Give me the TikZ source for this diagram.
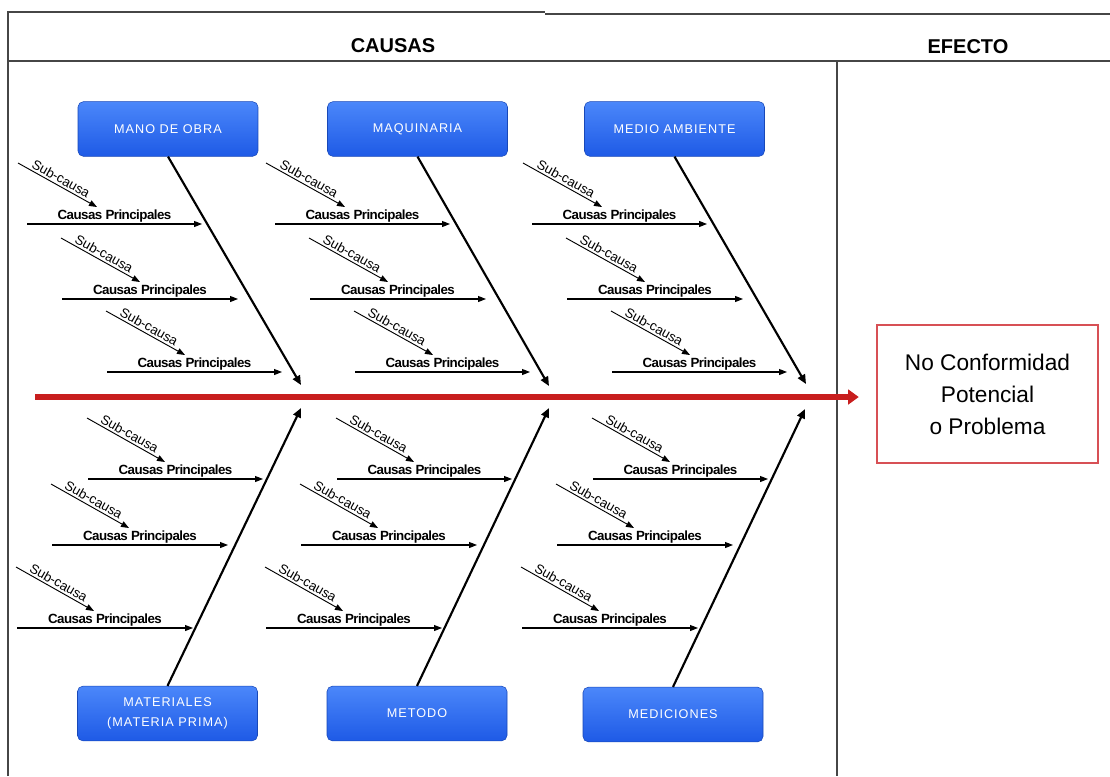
\documentclass[tikz,border=0pt]{standalone}
\usepackage{fontspec}
\setmainfont{Liberation Sans}
\usetikzlibrary{arrows.meta, positioning}
\definecolor{FrameGray}{RGB}{70,70,70}
\definecolor{BoxBlue}{RGB}{30,90,230}
\definecolor{BoxBlueTop}{RGB}{75,135,250}
\definecolor{SpineRed}{RGB}{200,30,30}
\definecolor{EffRed}{RGB}{215,80,85}

\begin{document}
\begin{tikzpicture}[x=0.75pt, y=-0.75pt,
    cat/.style={rectangle, rounded corners=4pt, minimum width=135pt,
                minimum height=41pt, top color=BoxBlueTop, bottom color=BoxBlue,
                draw=BoxBlue!80!black, line width=0.4pt, text=white, align=center,
                font=\fontsize{9.5}{15}\selectfont\addfontfeature{LetterSpace=8}},
    hdr/.style={font=\fontsize{15}{18}\selectfont\bfseries},
    frame/.style={draw=FrameGray, line width=0.9pt},
    spine/.style={-{Triangle[length=8pt, width=11pt]}, line width=4.5pt, draw=SpineRed},
    bone/.style={-{Triangle[length=7pt, width=6pt]}, line width=1.6pt, black},
    causa/.style={-{Triangle[length=6pt, width=4.5pt]}, line width=0.8pt, black},
    princ/.style={font=\fontsize{10}{12}\selectfont\bfseries\addfontfeature{LetterSpace=-4},
                  inner sep=1pt},
    subtxt/.style={font=\fontsize{10}{12}\selectfont, inner sep=1.5pt}
  ]
  \useasboundingbox (0,0) rectangle (1110,776);

  % frame and headers
  \draw[frame] (8,776) -- (8,12) -- (545,12);
  \draw[frame] (545,14) -- (1110,14);
  \draw[frame] (8,61) -- (1110,61);
  \draw[frame] (837,61) -- (837,776);
  \node[hdr] (causas) at (393,46) {CAUSAS};
  \node[hdr] (efecto) at (968,47) {EFECTO};

  % categories
  \node[cat] (mano)   at (168,129)     {MANO DE OBRA};
  \node[cat] (maqui)  at (417.5,129)   {MAQUINARIA};
  \node[cat] (medio)  at (674.5,129)   {MEDIO AMBIENTE};
  \node[cat] (mater)  at (167.5,713.5) {MATERIALES\\(MATERIA PRIMA)};
  \node[cat] (metodo) at (417,713.5)   {METODO};
  \node[cat] (medic)  at (673,714.5)   {MEDICIONES};

  % effect
  \node[draw=EffRed, line width=1.6pt, minimum width=166pt, minimum height=103.5pt,
        align=center, font=\fontsize{17}{24}\selectfont]
        (effect) at (987.5,394) {No Conformidad\\Potencial\\o Problema};

  % spine
  \coordinate (spS) at (35,397);
  \draw[spine, shorten >=12.75pt] (spS) -- (spS -| effect.west);

  % main bones
  \coordinate (tb1) at (301,385);
  \coordinate (tb2) at (549,386);
  \coordinate (tb3) at (806,384);
  \coordinate (bb1) at (301,408);
  \coordinate (bb2) at (549,408);
  \coordinate (bb3) at (805,409);
  \draw[bone] (mano.south)   -- (tb1);
  \draw[bone] (maqui.south)  -- (tb2);
  \draw[bone] (medio.south)  -- (tb3);
  \draw[bone] (mater.north)  -- (bb1);
  \draw[bone] (metodo.north) -- (bb2);
  \draw[bone] (medic.north)  -- (bb3);

  % causes, top half
  \foreach \g/\dx in {1/0, 2/248, 3/505} {
    \foreach \r/\xa/\xb/\yy/\sa/\sb in {1/27/202/224/18/97,
                                        2/62/238/299/61/140,
                                        3/107/282/372/106/185} {
      \coordinate (ts\g\r) at (\xa+\dx,\yy);
      \coordinate (te\g\r) at (\xb+\dx,\yy);
      \draw[causa] (ts\g\r) -- node[midway, above, princ] {Causas Principales} (te\g\r);
      \coordinate (ss\g\r) at (\sa+\dx,\yy-61);
      \coordinate (se\g\r) at (\sb+\dx,\yy-17);
      \draw[causa, line width=0.7pt] (ss\g\r) -- node[midway, above, sloped, subtxt] {Sub-causa} (se\g\r);
    }
  }

  % causes, bottom half
  \foreach \g/\dx in {1/0, 2/249, 3/505} {
    \foreach \r/\xa/\xb/\yy in {1/88/263/479, 2/52/228/545, 3/17/193/628} {
      \coordinate (us\g\r) at (\xa+\dx,\yy);
      \coordinate (ue\g\r) at (\xb+\dx,\yy);
      \draw[causa] (us\g\r) -- node[midway, above, princ] {Causas Principales} (ue\g\r);
      \coordinate (vs\g\r) at (\xa-1+\dx,\yy-61);
      \coordinate (ve\g\r) at (\xa+77+\dx,\yy-17);
      \draw[causa, line width=0.7pt] (vs\g\r) -- node[midway, above, sloped, subtxt] {Sub-causa} (ve\g\r);
    }
  }
\end{tikzpicture}
\end{document}
